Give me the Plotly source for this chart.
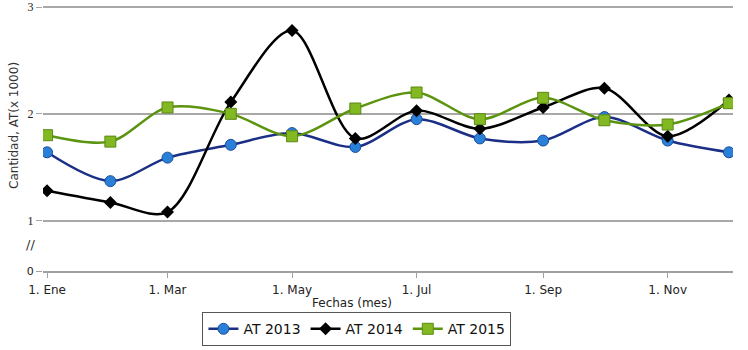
import plotly.graph_objects as go

months = ["2015-01-01", "2015-02-01", "2015-03-01", "2015-04-01", "2015-05-01", "2015-06-01",
          "2015-07-01", "2015-08-01", "2015-09-01", "2015-10-01", "2015-11-01", "2015-12-01"]
at2013 = [1.64, 1.37, 1.59, 1.71, 1.82, 1.69, 1.95, 1.77, 1.75, 1.97, 1.75, 1.64]
at2014 = [1.28, 1.17, 1.08, 2.11, 2.78, 1.77, 2.03, 1.86, 2.06, 2.24, 1.79, 2.13]
at2015 = [1.80, 1.74, 2.06, 2.00, 1.79, 2.05, 2.20, 1.95, 2.15, 1.94, 1.90, 2.10]

tick_dates = ["2015-01-01", "2015-03-01", "2015-05-01", "2015-07-01", "2015-09-01", "2015-11-01"]
tick_text = ["1. Ene", "1. Mar", "1. May", "1. Jul", "1. Sep", "1. Nov"]
y_ticks = [1, 2, 3]

fig = go.Figure()
fig.add_trace(go.Scatter(x=months, y=at2013, name="AT 2013", mode="lines+markers",
                         line=dict(color="#1c2f86", width=2.5, shape="spline", smoothing=0.9),
                         marker=dict(symbol="circle", size=11, color="#2a7fd8",
                                     line=dict(color="#1c4f9a", width=1))))
fig.add_trace(go.Scatter(x=months, y=at2014, name="AT 2014", mode="lines+markers",
                         line=dict(color="#000000", width=2.5, shape="spline", smoothing=0.9),
                         marker=dict(symbol="diamond", size=10, color="#000000")))
fig.add_trace(go.Scatter(x=months, y=at2015, name="AT 2015", mode="lines+markers",
                         line=dict(color="#5c9410", width=2.5, shape="spline", smoothing=0.9),
                         marker=dict(symbol="square", size=11, color="#82b822",
                                     line=dict(color="#5c8a14", width=1))))
fig.add_trace(go.Scatter(x=[None], y=[None], xaxis="x", yaxis="y2", showlegend=False,
                         hoverinfo="skip"))

fig.update_layout(
    width=748, height=350,
    margin=dict(l=43, r=15, t=6, b=79),
    paper_bgcolor="white", plot_bgcolor="white",
    font=dict(family="DejaVu Sans", size=12, color="#333333"),
    xaxis=dict(type="date", range=["2014-12-30", "2015-12-03"], anchor="y2", automargin=False,
               tickvals=tick_dates, ticktext=tick_text, showgrid=False,
               showline=True, linecolor="#a0a0a0", linewidth=2,
               ticks="outside", ticklen=5, tickcolor="#a0a0a0", ticklabelstandoff=2,
               tickfont=dict(size=12, color="#222222")),
    yaxis=dict(domain=[0.186, 1], range=[0.99, 3.01], tickvals=y_ticks, ticktext=[str(v) for v in y_ticks],
               automargin=False,
               showgrid=True, gridcolor="#a8a8a8", gridwidth=2, zeroline=False,
               ticks="outside", ticklen=6, tickcolor="#a8a8a8",
               tickfont=dict(family="Liberation Serif", size=12, color="#222222")),
    yaxis2=dict(domain=[0, 0.05], range=[0, 1], tickvals=[0], ticktext=["0"], automargin=False,
                showgrid=False, zeroline=False, ticks="outside", ticklen=6, tickcolor="#a0a0a0",
                tickfont=dict(size=11, color="#222222")),
    legend=dict(orientation="h", x=0.455, xanchor="center", yref="container", y=0.108,
                yanchor="top",
                bordercolor="#555555", borderwidth=1, font=dict(size=14, color="#111111"),
                itemwidth=30, tracegroupgap=0),
    showlegend=True,
)
fig.add_annotation(text="Cantidad, AT(x 1000)", textangle=-90, xref="paper", yref="paper",
                   x=-0.041, y=0.55, xanchor="center", yanchor="middle", showarrow=False,
                   font=dict(size=12, color="#333333"))
fig.add_annotation(text="Fechas (mes)", xref="paper", yref="paper",
                   x=0.448, y=-0.121, xanchor="center", yanchor="middle", showarrow=False,
                   font=dict(size=12, color="#222222"))
fig.add_annotation(text="//", xref="paper", yref="paper", x=-0.008, y=0.1, xanchor="right",
                   yanchor="middle", showarrow=False, font=dict(size=13, color="#333333"))
fig.write_html("out.html", config={"displayModeBar": False},
               post_script="document.body.style.margin='0';document.body.style.overflow='hidden';")
